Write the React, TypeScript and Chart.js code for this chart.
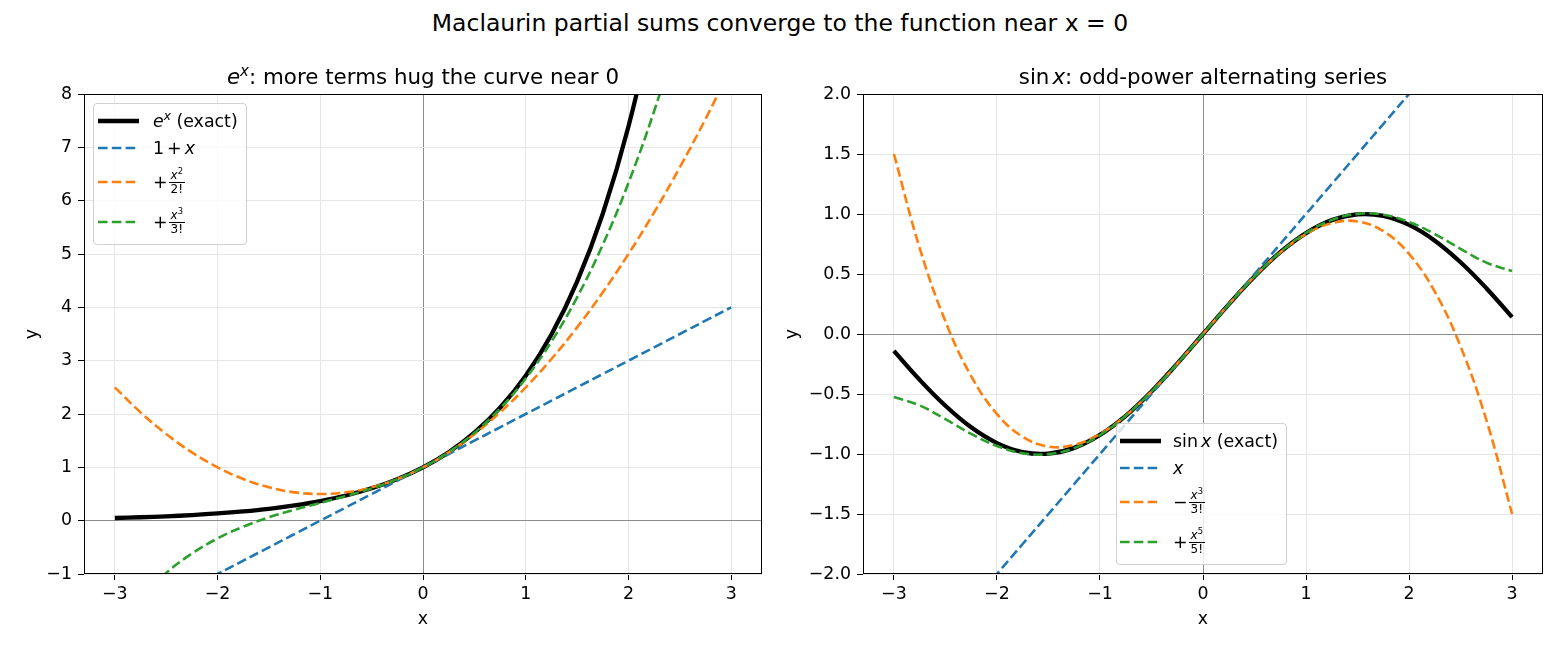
import React, { useEffect, useRef } from 'react';
import { Chart, registerables } from 'chart.js';

Chart.register(...registerables);

// ---------------- data ----------------
const xs = [-3, -2.75, -2.5, -2.25, -2, -1.75, -1.5, -1.25, -1, -0.75, -0.5, -0.25, 0, 0.25, 0.5, 0.75, 1, 1.25, 1.5, 1.75, 2, 2.25, 2.5, 2.75, 3];

const expExact = [0.05, 0.064, 0.082, 0.105, 0.135, 0.174, 0.223, 0.287, 0.368, 0.472, 0.607, 0.779, 1.0, 1.284, 1.649, 2.117, 2.718, 3.49, 4.482, 5.755, 7.389, 9.488, 12.182, 15.643, 20.086];
const expOrder1 = [-2, -1.75, -1.5, -1.25, -1, -0.75, -0.5, -0.25, 0, 0.25, 0.5, 0.75, 1, 1.25, 1.5, 1.75, 2, 2.25, 2.5, 2.75, 3, 3.25, 3.5, 3.75, 4];
const expOrder2 = [2.5, 2.031, 1.625, 1.281, 1.0, 0.781, 0.625, 0.531, 0.5, 0.531, 0.625, 0.781, 1.0, 1.281, 1.625, 2.031, 2.5, 3.031, 3.625, 4.281, 5.0, 5.781, 6.625, 7.531, 8.5];
const expOrder3 = [-2.0, -1.435, -0.979, -0.617, -0.333, -0.112, 0.063, 0.206, 0.333, 0.461, 0.604, 0.779, 1.0, 1.284, 1.646, 2.102, 2.667, 3.357, 4.188, 5.174, 6.333, 7.68, 9.229, 10.997, 13.0];

const sinExact = [-0.141, -0.382, -0.598, -0.778, -0.909, -0.984, -0.997, -0.949, -0.841, -0.682, -0.479, -0.247, 0, 0.247, 0.479, 0.682, 0.841, 0.949, 0.997, 0.984, 0.909, 0.778, 0.598, 0.382, 0.141];
const sinOrder1 = [-3, -2.75, -2.5, -2.25, -2, -1.75, -1.5, -1.25, -1, -0.75, -0.5, -0.25, 0, 0.25, 0.5, 0.75, 1, 1.25, 1.5, 1.75, 2, 2.25, 2.5, 2.75, 3];
const sinOrder3 = [1.5, 0.716, 0.104, -0.352, -0.667, -0.857, -0.938, -0.924, -0.833, -0.68, -0.479, -0.247, 0, 0.247, 0.479, 0.68, 0.833, 0.924, 0.938, 0.857, 0.667, 0.352, -0.104, -0.716, -1.5];
const sinOrder5 = [-0.525, -0.595, -0.71, -0.833, -0.933, -0.994, -1.001, -0.95, -0.842, -0.682, -0.479, -0.247, 0, 0.247, 0.479, 0.682, 0.842, 0.95, 1.001, 0.994, 0.933, 0.833, 0.71, 0.595, 0.525];

const xTicks = [-3, -2, -1, 0, 1, 2, 3];
const expYTicks = [-1, 0, 1, 2, 3, 4, 5, 6, 7, 8];
const sinYTicks = [-2, -1.5, -1, -0.5, 0, 0.5, 1, 1.5, 2];

const suptitle = 'Maclaurin partial sums converge to the function near x = 0';

// ---------------- styling ----------------
const FONT = "'DejaVu Sans', 'Liberation Sans', sans-serif";
const BLUE = '#1f77b4';
const ORANGE = '#ff7f0e';
const GREEN = '#2ca02c';
const DASH = [9.6, 4.2];
const FS = 17.4;
const DASH_W = 2.6;
const EXACT_W = 4.3;

const minusFmt = (s: string) => s.replace('-', '\u2212');

const framePlugin = {
  id: 'frame',
  afterDatasetsDraw(chart: any) {
    const { ctx, chartArea: a } = chart;
    ctx.save();
    ctx.strokeStyle = '#000';
    ctx.lineWidth = 1;
    const l = Math.round(a.left) + 0.5;
    const t = Math.round(a.top) + 0.5;
    const r = Math.round(a.right) - 0.5;
    const b = Math.round(a.bottom) - 0.5;
    ctx.strokeRect(l, t, r - l, b - t);
    ctx.restore();
  },
};

type Series = { data: number[]; color: string; width: number; dashed: boolean; order: number };

function makeConfig(series: Series[], yMin: number, yMax: number, yTicks: number[], yFmt: (v: number) => string, padLeft: number, yWidth: number, padRight: number) {
  const grid = {
    color: (c: any) => (c.tick && c.tick.value === 0 ? '#8c8c8c' : '#e6e6e6'),
    lineWidth: 1,
    drawTicks: true,
    tickLength: 6,
    tickColor: '#000',
    tickWidth: 1,
  };
  return {
    type: 'line',
    data: {
      datasets: series.map((s) => ({
        data: xs.map((x, i) => ({ x, y: s.data[i] })),
        borderColor: s.color,
        borderWidth: s.width,
        borderDash: s.dashed ? DASH : [],
        pointRadius: 0,
        tension: 0.4,
        fill: false,
        clip: 0,
        order: s.order,
      })),
    },
    options: {
      animation: false,
      responsive: false,
      events: [],
      layout: { padding: { left: padLeft, right: padRight, top: 54, bottom: 20 } },
      plugins: { legend: { display: false }, tooltip: { enabled: false }, title: { display: false } },
      scales: {
        x: {
          type: 'linear',
          min: -3.3,
          max: 3.3,
          afterBuildTicks: (scale: any) => {
            scale.ticks = xTicks.map((v) => ({ value: v }));
          },
          afterFit: (scale: any) => {
            scale.height = 56;
          },
          grid,
          border: { display: false },
          ticks: {
            color: '#000',
            padding: 4,
            font: { family: FONT, size: FS },
            maxRotation: 0,
            autoSkip: false,
            callback: (v: any) => minusFmt(String(v)),
          },
          title: { display: true, text: 'x', color: '#000', padding: 0, font: { family: FONT, size: FS } },
        },
        y: {
          type: 'linear',
          min: yMin,
          max: yMax,
          afterBuildTicks: (scale: any) => {
            scale.ticks = yTicks.map((v) => ({ value: v }));
          },
          afterFit: (scale: any) => {
            scale.width = yWidth;
          },
          grid,
          border: { display: false },
          ticks: {
            color: '#000',
            padding: 6,
            font: { family: FONT, size: FS },
            autoSkip: false,
            callback: (v: any) => yFmt(Number(v)),
          },
          title: { display: true, text: 'y', color: '#000', padding: 0, font: { family: FONT, size: FS } },
        },
      },
    },
    plugins: [framePlugin],
  } as any;
}

function ChartPanel(props: { config: any; left: number }) {
  const ref = useRef<HTMLCanvasElement | null>(null);
  useEffect(() => {
    if (!ref.current) return;
    const chart = new Chart(ref.current, props.config);
    return () => chart.destroy();
  }, []);
  return (
    <canvas
      ref={ref}
      width={780}
      height={610}
      style={{ position: 'absolute', left: props.left, top: 40, width: 780, height: 610 }}
    />
  );
}

const Sup = (p: { children: React.ReactNode }) => (
  <span style={{ fontSize: '0.7em', verticalAlign: '0.55em', lineHeight: 0 }}>{p.children}</span>
);

const Frac = (p: { num: React.ReactNode; den: React.ReactNode }) => (
  <span
    style={{
      display: 'inline-flex',
      flexDirection: 'column',
      alignItems: 'center',
      fontSize: '12px',
      lineHeight: '12px',
      verticalAlign: 'middle',
      marginLeft: 1,
    }}
  >
    <span style={{ padding: '0 1px 1px' }}>{p.num}</span>
    <span style={{ borderTop: '1px solid #000', padding: '0 1px', width: '100%', textAlign: 'center' }}>{p.den}</span>
  </span>
);

type LegendRow = { color: string; width: number; dashed: boolean; label: React.ReactNode; cy: number };

function Legend(p: { left: number; top: number; width: number; height: number; sampleX: number; textX: number; rows: LegendRow[] }) {
  return (
    <div
      style={{
        position: 'absolute',
        left: p.left,
        top: p.top,
        width: p.width,
        height: p.height,
        boxSizing: 'border-box',
        background: 'rgba(255,255,255,0.8)',
        border: '1px solid #d0d0d0',
        borderRadius: 4,
      }}
    >
      {p.rows.map((r, i) => (
        <div key={i} style={{ position: 'absolute', left: 0, top: r.cy - p.top - 1 - 16, height: 32, width: '100%' }}>
          <svg width={42} height={8} style={{ position: 'absolute', left: p.sampleX - p.left - 1, top: 12 }}>
            <line
              x1={0}
              y1={4}
              x2={41}
              y2={4}
              stroke={r.color}
              strokeWidth={r.width}
              strokeDasharray={r.dashed ? DASH.join(' ') : undefined}
            />
          </svg>
          <div
            style={{
              position: 'absolute',
              left: p.textX - p.left - 1,
              top: 0,
              height: 32,
              display: 'flex',
              alignItems: 'center',
              whiteSpace: 'nowrap',
              fontSize: FS + 'px',
              color: '#000',
            }}
          >
            {r.label}
          </div>
        </div>
      ))}
    </div>
  );
}

export default function App() {
  const expSeries: Series[] = [
    { data: expExact, color: '#000', width: EXACT_W, dashed: false, order: 3 },
    { data: expOrder1, color: BLUE, width: DASH_W, dashed: true, order: 2 },
    { data: expOrder2, color: ORANGE, width: DASH_W, dashed: true, order: 1 },
    { data: expOrder3, color: GREEN, width: DASH_W, dashed: true, order: 0 },
  ];
  const sinSeries: Series[] = [
    { data: sinExact, color: '#000', width: EXACT_W, dashed: false, order: 3 },
    { data: sinOrder1, color: BLUE, width: DASH_W, dashed: true, order: 2 },
    { data: sinOrder3, color: ORANGE, width: DASH_W, dashed: true, order: 1 },
    { data: sinOrder5, color: GREEN, width: DASH_W, dashed: true, order: 0 },
  ];
  const leftCfg = makeConfig(expSeries, -1, 8, expYTicks, (v) => minusFmt(String(v)), 22, 62, 18);
  const rightCfg = makeConfig(sinSeries, -2, 2, sinYTicks, (v) => minusFmt(v.toFixed(1)), 2, 81, 17);

  const titleStyle: React.CSSProperties = {
    position: 'absolute',
    top: 65,
    lineHeight: '24px',
    fontSize: '21.4px',
    textAlign: 'center',
    whiteSpace: 'nowrap',
    transform: 'translateX(-50%)',
    color: '#000',
  };

  const mplus = (sign: string) => <span style={{ margin: '0 1px 0 0' }}>{sign}</span>;

  return (
    <div style={{ position: 'absolute', left: 0, top: 0, width: 1560, height: 650, background: '#fff', fontFamily: FONT, overflow: 'hidden' }}>
      <div style={{ position: 'absolute', left: 0, width: 1560, top: 9, lineHeight: '28px', fontSize: '23.5px', textAlign: 'center', color: '#000' }}>
        {suptitle}
      </div>
      <ChartPanel config={leftCfg} left={0} />
      <ChartPanel config={rightCfg} left={780} />
      <div style={{ ...titleStyle, left: 423 }}>
        <i>e</i>
        <Sup>
          <i>x</i>
        </Sup>
        : more terms hug the curve near 0
      </div>
      <div style={{ ...titleStyle, left: 1203 }}>
        sin<span style={{ marginLeft: 3 }}><i>x</i></span>: odd-power alternating series
      </div>
      <Legend
        left={93}
        top={103}
        width={154}
        height={142}
        sampleX={98}
        textX={153}
        rows={[
          { color: '#000', width: EXACT_W, dashed: false, cy: 121, label: (<span><i>e</i><Sup><i>x</i></Sup> (exact)</span>) },
          { color: BLUE, width: DASH_W, dashed: true, cy: 148, label: (<span>1<span style={{ margin: '0 3px' }}>+</span><i>x</i></span>) },
          { color: ORANGE, width: DASH_W, dashed: true, cy: 182, label: (<span style={{ display: 'flex', alignItems: 'center' }}>{mplus('+')}<Frac num={<><i>x</i><Sup>2</Sup></>} den="2!" /></span>) },
          { color: GREEN, width: DASH_W, dashed: true, cy: 222, label: (<span style={{ display: 'flex', alignItems: 'center' }}>{mplus('+')}<Frac num={<><i>x</i><Sup>3</Sup></>} den="3!" /></span>) },
        ]}
      />
      <Legend
        left={1116}
        top={423}
        width={171}
        height={142}
        sampleX={1120}
        textX={1173}
        rows={[
          { color: '#000', width: EXACT_W, dashed: false, cy: 441, label: (<span>sin<span style={{ marginLeft: 3 }}><i>x</i></span> (exact)</span>) },
          { color: BLUE, width: DASH_W, dashed: true, cy: 468, label: (<span><i>x</i></span>) },
          { color: ORANGE, width: DASH_W, dashed: true, cy: 502, label: (<span style={{ display: 'flex', alignItems: 'center' }}>{mplus('\u2212')}<Frac num={<><i>x</i><Sup>3</Sup></>} den="3!" /></span>) },
          { color: GREEN, width: DASH_W, dashed: true, cy: 542, label: (<span style={{ display: 'flex', alignItems: 'center' }}>{mplus('+')}<Frac num={<><i>x</i><Sup>5</Sup></>} den="5!" /></span>) },
        ]}
      />
    </div>
  );
}
